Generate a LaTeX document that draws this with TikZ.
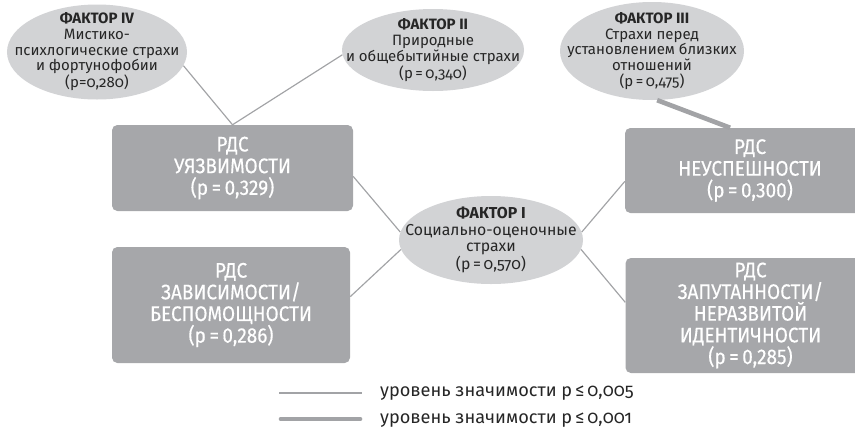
\documentclass[tikz,border=0pt]{standalone}
\usepackage{fontspec}
\setmainfont{Fira Sans}
\usetikzlibrary{shapes.geometric}
\definecolor{boxgray}{HTML}{A6A7AA}
\definecolor{ovalgray}{HTML}{D2D3D5}
\definecolor{linkgray}{HTML}{A2A3A6}
\definecolor{ink}{HTML}{262626}

\begin{document}
\begin{tikzpicture}[x=0.3mm,y=-0.3mm]
\tikzset{
  factor/.style={ellipse,fill=ovalgray,inner sep=0pt},
  factortext/.style={align=center,text=ink,inner sep=0pt,
    font=\fontsize{12.8}{13.4}\selectfont\addfontfeatures{Numbers=OldStyle}},
  rds/.style={rectangle,rounded corners=1.6mm,fill=boxgray,text=white,align=center,
    inner sep=0pt,font=\fontsize{18}{18.5}\selectfont\addfontfeatures{FakeStretch=0.9,FakeBold=0.3}},
  weak/.style={linkgray,line width=1pt},
  strong/.style={linkgray,line width=4pt},
  legend/.style={anchor=west,text=ink,font=\fontsize{15.5}{18}\selectfont\addfontfeatures{Numbers=OldStyle}}
}
\useasboundingbox (0,0) rectangle (855,433);

% factors
\node[factor,minimum width=54mm,minimum height=28.5mm] (f4) at (97,52) {};
\node[factortext] (t4) at (f4)
  {\textbf{ФАКТОР IV}\\Мистико-\\психлогические страхи\\и фортунофобии\\(p=0,280)};
\node[factor,minimum width=54.6mm,minimum height=24.6mm] (f2) at (433,50) {};
\node[factortext] (t2) at (f2)
  {\textbf{ФАКТОР II}\\Природные\\и общебытийные страхи\\(p\,=\,0,340)};
\node[factor,minimum width=55.2mm,minimum height=29.4mm] (f3) at (652,51) {};
\node[factortext] (t3) at (f3)
  {\textbf{ФАКТОР III}\\Страхи перед\\установлением близких\\отношений\\(p\,=\,0,475)};
\node[factor,minimum width=55.2mm,minimum height=26.4mm] (f1) at (491,240) {};
\node[factortext,font=\fontsize{13.5}{14.2}\selectfont\addfontfeatures{Numbers=OldStyle}] (t1) at (f1)
  {\textbf{ФАКТОР I}\\Социально-оценочные\\страхи\\(p\,=\,0,570)};

% syndromes
\node[rds,minimum width=72.3mm,minimum height=25.8mm] (u) at (232.5,168)
  {РДС\\УЯЗВИМОСТИ\\(p\,=\,0,329)};
\node[rds,minimum width=71.4mm,minimum height=34.8mm] (z) at (231,305)
  {РДС\\ЗАВИСИМОСТИ/\\БЕСПОМОЩНОСТИ\\(p\,=\,0,286)};
\node[rds,minimum width=75mm,minimum height=25.5mm] (n) at (750,170.5)
  {РДС\\НЕУСПЕШНОСТИ\\(p\,=\,0,300)};
\node[rds,minimum width=75mm,minimum height=34.5mm] (zap) at (750.5,315.5)
  {РДС\\ЗАПУТАННОСТИ/\\НЕРАЗВИТОЙ\\ИДЕНТИЧНОСТИ\\(p\,=\,0,285)};

% links
\draw[weak] (f4.-9) -- (u.north);
\draw[weak] (u.north) -- (f2.183);
\draw[weak] (u.-4) -- (f1.175);
\draw[weak] (z.4) -- (f1.186);
\draw[weak] (f1.5) -- (n.185);
\draw[weak] (f1.-6) -- (zap.174);
\draw[strong] (f3.-84) -- (n.115);

% legend
\coordinate (w1) at (279,393);
\coordinate (w2) at (362,393);
\coordinate (s1) at (281,419);
\coordinate (s2) at (360,419);
\draw[weak] (w1) -- (w2);
\draw[strong,line cap=round] (s1) -- (s2);
\node[legend] (lw) at (376,393) {уровень значимости p\,≤\,0,005};
\node[legend] (ls) at (376,420) {уровень значимости p\,≤\,0,001};
\end{tikzpicture}
\end{document}
